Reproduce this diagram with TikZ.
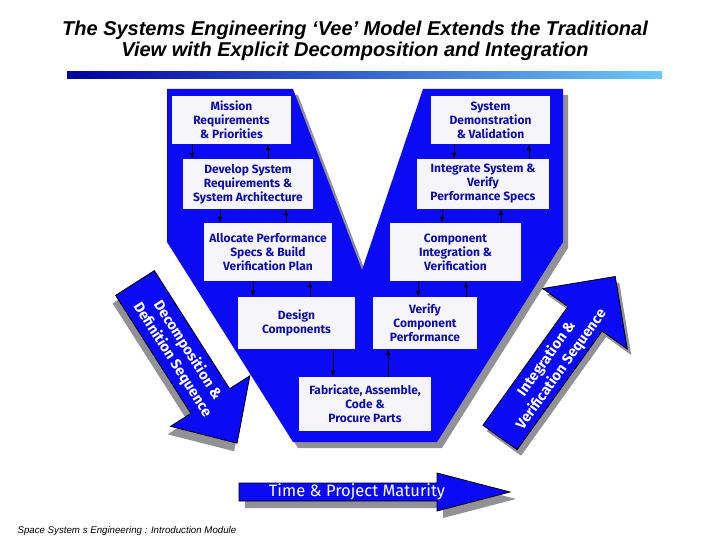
\documentclass[tikz,border=0pt]{standalone}
\usepackage{fontspec}
\usetikzlibrary{arrows.meta}
\newfontfamily\veefont{Fira Sans}
\newfontfamily\titlefont{Liberation Sans}
\definecolor{veeblue}{RGB}{10,10,245}
\definecolor{boxtext}{RGB}{15,15,165}
\definecolor{boxfill}{RGB}{246,246,250}
\definecolor{shadowgray}{RGB}{145,145,150}
\definecolor{barleft}{RGB}{0,0,160}
\definecolor{barright}{RGB}{110,200,250}
\tikzset{
  vbox/.style={fill=boxfill, inner sep=0pt, align=center, text=boxtext,
    font=\veefont\bfseries\fontsize{12}{14}\selectfont},
  arrowshadow/.style={fill=shadowgray},
  bluearrow/.style={fill=veeblue, draw=black, line width=0.8pt},
  arrowtext/.style={text=white, align=center,
    font=\veefont\bfseries\fontsize{14.5}{18}\selectfont},
  link/.style={line width=0.8pt}
}
\begin{document}
\begin{tikzpicture}[x=1pt,y=-1pt,>={Latex[length=6pt,width=4.5pt]}]
\useasboundingbox (0,0) rectangle (720,540);
\node[font=\titlefont\bfseries\itshape\fontsize{20}{24}\selectfont] (title1) at (355,30)
  {The Systems Engineering ‘Vee’ Model Extends the Traditional};
\node[font=\titlefont\bfseries\itshape\fontsize{20}{24}\selectfont] (title2) at (355,51)
  {View with Explicit Decomposition and Integration};
\shade[left color=barleft, right color=barright] (67,72) rectangle (662,79);

% the vee
\foreach \dx/\dy/\col in {5/6/shadowgray,0/0/veeblue}
  \fill[\col, shift={(\dx,\dy)}] (167,89) -- (293,89) -- (362,270) -- (423,89)
    -- (563,89) -- (563,242) -- (437,442) -- (293,442) -- (167,242) -- cycle;

\node[vbox, minimum width=119, minimum height=48] (mission) at (231.5,120) {Mission\\Requirements\\\& Priorities};
\node[vbox, minimum width=130, minimum height=50] (develop) at (248,184) {Develop System\\Requirements \&\\System Architecture};
\node[vbox, minimum width=128, minimum height=58] (allocate) at (268,252) {Allocate Performance\\Specs \& Build\\Verification Plan};
\node[vbox, minimum width=117, minimum height=52] (design) at (296.5,323) {Design\\Components};
\node[vbox, minimum width=132, minimum height=54] (fab) at (365,404) {Fabricate, Assemble,\\Code \&\\Procure Parts};
\node[vbox, minimum width=104, minimum height=52] (verify) at (425,323) {Verify\\Component\\Performance};
\node[vbox, minimum width=131, minimum height=58] (compint) at (455.5,252) {Component\\Integration \&\\Verification};
\node[vbox, minimum width=132, minimum height=50] (integ) at (483,184) {Integrate System \&\\Verify\\Performance Specs};
\node[vbox, minimum width=119, minimum height=48] (sysdemo) at (490.5,120) {System\\Demonstration\\\& Validation};

\foreach \a/\b/\dx/\dir in {mission/develop/-39.5/->, mission/develop/36.5/<-,
    develop/allocate/-28/->, develop/allocate/38/<-,
    allocate/design/-15/->, allocate/design/42/<-,
    design/fab/36.5/->, verify/fab/-37/<-,
    compint/verify/-37.5/->, compint/verify/10.5/<-,
    integ/compint/-41/->, integ/compint/18/<-,
    sysdemo/integ/-36.5/->, sysdemo/integ/38.5/<-}
  \draw[link,\dir] ([xshift=\dx]\a.south) -- ([xshift=\dx]\a.south |- \b.north);

% side arrows
\foreach \dx/\dy/\sty in {-3/8/arrowshadow,0/0/bluearrow}
  \path[\sty, shift={(135+\dx,283+\dy)}, rotate=-57.5] (0,23) -- (140,23) -- (140,47)
    -- (190,0) -- (140,-47) -- (140,-23) -- (0,-23) -- cycle;
\node[arrowtext, rotate=-57.5] (decomp) at (180,355) {Decomposition \&\\Definition Sequence};

\foreach \dx/\dy/\sty in {4/6/arrowshadow,0/0/bluearrow}
  \path[\sty, shift={(500+\dx,437.5+\dy)}, rotate=54.4] (0,21) -- (146,21) -- (146,52)
    -- (198,0) -- (146,-52) -- (146,-21) -- (0,-21) -- cycle;
\node[arrowtext, rotate=54.4] (integseq) at (554,364) {Integration \&\\Verification Sequence};

\foreach \dx/\dy/\sty in {6/7/arrowshadow,0/0/bluearrow}
  \path[\sty, shift={(\dx,\dy)}] (239,483) -- (437,483) -- (437,473) -- (510,492)
    -- (437,511) -- (437,501) -- (239,501) -- cycle;
\node[text=white, font=\veefont\fontsize{16.5}{18}\selectfont] (time) at (357,492) {Time \& Project Maturity};

\node[anchor=west, font=\titlefont\itshape\fontsize{9.7}{11}\selectfont] (footer) at (14,531)
  {Space System s Engineering : Introduction Module};
\end{tikzpicture}
\end{document}
